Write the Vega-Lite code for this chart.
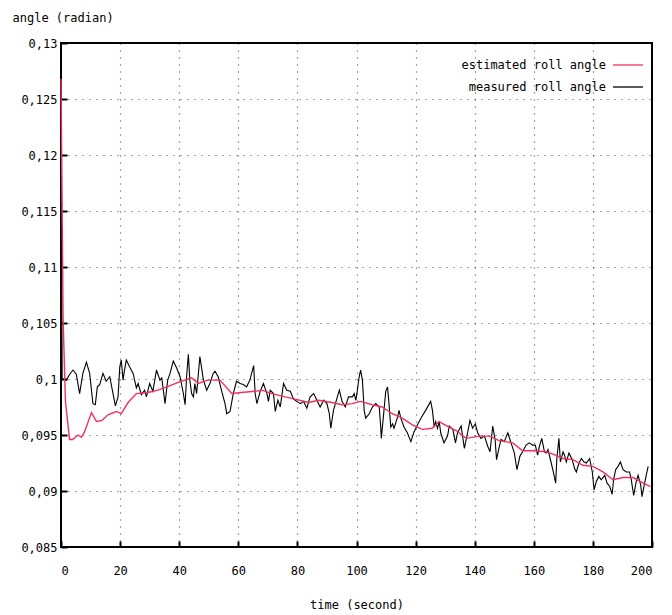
{
  "$schema": "https://vega.github.io/schema/vega-lite/v6.json",
  "width": 591,
  "height": 504,
  "autosize": {"type": "none"},
  "padding": {"left": 61, "top": 43, "right": 20, "bottom": 68},
  "background": "white",
  "config": {
    "font": "DejaVu Sans Mono",
    "view": {"stroke": "#000", "strokeWidth": 2},
    "axis": {
      "labelFont": "DejaVu Sans Mono",
      "labelFontSize": 12,
      "labelColor": "#000",
      "titleFont": "DejaVu Sans Mono",
      "titleFontSize": 12,
      "titleFontWeight": "normal",
      "titleColor": "#000",
      "domain": false,
      "tickColor": "#000",
      "tickWidth": 2,
      "tickSize": -6,
      "grid": true,
      "gridColor": "#000",
      "gridDash": [1, 6],
      "gridWidth": 1.2,
      "gridOpacity": 0.7
    }
  },
  "datasets": {
    "est": [
      {"t": 0, "v": 0.1268}, {"t": 0.7, "v": 0.1055}, {"t": 1.5, "v": 0.098}, {"t": 2.9, "v": 0.0946},
      {"t": 3.9, "v": 0.0946}, {"t": 5.8, "v": 0.095}, {"t": 6.9, "v": 0.0948}, {"t": 8, "v": 0.0953},
      {"t": 10.3, "v": 0.097}, {"t": 12, "v": 0.0962}, {"t": 13.9, "v": 0.0963}, {"t": 15.9, "v": 0.0968},
      {"t": 18.7, "v": 0.0971}, {"t": 20.4, "v": 0.0969}, {"t": 22.7, "v": 0.0979}, {"t": 25.5, "v": 0.0987},
      {"t": 29.4, "v": 0.0988}, {"t": 32.8, "v": 0.099}, {"t": 35.8, "v": 0.0993}, {"t": 39.7, "v": 0.0997},
      {"t": 44.2, "v": 0.1001}, {"t": 46.5, "v": 0.0996}, {"t": 49.6, "v": 0.0999}, {"t": 53.8, "v": 0.0999},
      {"t": 57.8, "v": 0.0987}, {"t": 61, "v": 0.0988}, {"t": 65.7, "v": 0.0989}, {"t": 68, "v": 0.099},
      {"t": 71.4, "v": 0.0987}, {"t": 75.9, "v": 0.0984}, {"t": 79.3, "v": 0.0982}, {"t": 83.8, "v": 0.0979},
      {"t": 87.2, "v": 0.0981}, {"t": 91.7, "v": 0.0979}, {"t": 95.1, "v": 0.0977}, {"t": 98.5, "v": 0.0978},
      {"t": 101.4, "v": 0.098}, {"t": 105.3, "v": 0.0977}, {"t": 108.7, "v": 0.0975}, {"t": 112.1, "v": 0.0969},
      {"t": 115.5, "v": 0.0965}, {"t": 118.9, "v": 0.0959}, {"t": 122.3, "v": 0.0955}, {"t": 125.6, "v": 0.0956},
      {"t": 127.9, "v": 0.0962}, {"t": 131.3, "v": 0.0957}, {"t": 133.7, "v": 0.0954}, {"t": 137.1, "v": 0.0947},
      {"t": 141.6, "v": 0.0949}, {"t": 145, "v": 0.0949}, {"t": 148.3, "v": 0.0945}, {"t": 152.9, "v": 0.0943},
      {"t": 156.2, "v": 0.0936}, {"t": 159.6, "v": 0.0936}, {"t": 164.1, "v": 0.0935}, {"t": 166.5, "v": 0.0933},
      {"t": 169.9, "v": 0.0929}, {"t": 173.3, "v": 0.0928}, {"t": 176.6, "v": 0.0923}, {"t": 180, "v": 0.0922},
      {"t": 183.4, "v": 0.0917}, {"t": 186.8, "v": 0.091}, {"t": 190.2, "v": 0.0912}, {"t": 193.6, "v": 0.0912},
      {"t": 197, "v": 0.0907}, {"t": 199.5, "v": 0.0904}
    ],
    "meas": [
      {"t": 0, "v": 0.1225}, {"t": 0.4, "v": 0.1}, {"t": 1.8, "v": 0.0999}, {"t": 2.9, "v": 0.1004},
      {"t": 4.06, "v": 0.1008}, {"t": 5.2, "v": 0.1004}, {"t": 6.3, "v": 0.0987}, {"t": 7.4, "v": 0.1005},
      {"t": 8.6, "v": 0.1015}, {"t": 9.7, "v": 0.1005}, {"t": 10.8, "v": 0.0978}, {"t": 11.6, "v": 0.0977},
      {"t": 12.3, "v": 0.0993}, {"t": 13.1, "v": 0.0995}, {"t": 14.2, "v": 0.1005}, {"t": 15.3, "v": 0.0998},
      {"t": 16.5, "v": 0.1002}, {"t": 17.6, "v": 0.0987}, {"t": 18.4, "v": 0.0976}, {"t": 19.3, "v": 0.0984},
      {"t": 19.9, "v": 0.1011}, {"t": 20.4, "v": 0.1017}, {"t": 21, "v": 0.0999}, {"t": 21.5, "v": 0.1008},
      {"t": 22.1, "v": 0.1017}, {"t": 23.2, "v": 0.1011}, {"t": 24.4, "v": 0.1005}, {"t": 25.5, "v": 0.0992},
      {"t": 26.1, "v": 0.0996}, {"t": 27.2, "v": 0.0986}, {"t": 28.3, "v": 0.099}, {"t": 28.9, "v": 0.0984},
      {"t": 30, "v": 0.0996}, {"t": 31.1, "v": 0.0989}, {"t": 32.3, "v": 0.1008}, {"t": 33.5, "v": 0.0999},
      {"t": 34.1, "v": 0.1001}, {"t": 35.2, "v": 0.0978}, {"t": 36.1, "v": 0.0999}, {"t": 36.9, "v": 0.1005},
      {"t": 38, "v": 0.1016}, {"t": 39.1, "v": 0.101}, {"t": 40.3, "v": 0.1002}, {"t": 41.4, "v": 0.0987},
      {"t": 42, "v": 0.0977}, {"t": 42.5, "v": 0.1002}, {"t": 43.1, "v": 0.1022}, {"t": 43.6, "v": 0.0999},
      {"t": 44.2, "v": 0.0987}, {"t": 44.8, "v": 0.0984}, {"t": 45.3, "v": 0.0996}, {"t": 45.9, "v": 0.0987},
      {"t": 47, "v": 0.102}, {"t": 48.2, "v": 0.0999}, {"t": 49.3, "v": 0.099}, {"t": 50.4, "v": 0.0996},
      {"t": 51.5, "v": 0.1005}, {"t": 52.1, "v": 0.1007}, {"t": 53.2, "v": 0.1002}, {"t": 54.4, "v": 0.0989},
      {"t": 55.5, "v": 0.0978}, {"t": 56.1, "v": 0.0969}, {"t": 57.2, "v": 0.0971}, {"t": 58.3, "v": 0.0987},
      {"t": 59.4, "v": 0.0998}, {"t": 60.6, "v": 0.0996}, {"t": 61.7, "v": 0.0995}, {"t": 62.8, "v": 0.0993},
      {"t": 63.9, "v": 0.0999}, {"t": 65.2, "v": 0.1012}, {"t": 65.7, "v": 0.0987}, {"t": 66.3, "v": 0.0978},
      {"t": 67.4, "v": 0.0989}, {"t": 68.5, "v": 0.0996}, {"t": 69.7, "v": 0.0987}, {"t": 70.2, "v": 0.098},
      {"t": 70.8, "v": 0.099}, {"t": 71.9, "v": 0.0987}, {"t": 72.5, "v": 0.0971}, {"t": 73.4, "v": 0.0981},
      {"t": 74.2, "v": 0.0975}, {"t": 75.3, "v": 0.0996}, {"t": 76.4, "v": 0.099}, {"t": 77.6, "v": 0.0989},
      {"t": 78.7, "v": 0.0982}, {"t": 79.8, "v": 0.098}, {"t": 81, "v": 0.0978}, {"t": 82.1, "v": 0.098},
      {"t": 83.2, "v": 0.0974}, {"t": 84.3, "v": 0.0984}, {"t": 85.5, "v": 0.0987}, {"t": 86.6, "v": 0.0981},
      {"t": 87.7, "v": 0.0975}, {"t": 88.9, "v": 0.0981}, {"t": 90, "v": 0.0978}, {"t": 90.8, "v": 0.0969},
      {"t": 91.3, "v": 0.0956}, {"t": 92.2, "v": 0.0972}, {"t": 93.4, "v": 0.0983}, {"t": 94.2, "v": 0.099},
      {"t": 95.1, "v": 0.098}, {"t": 96.2, "v": 0.0975}, {"t": 97.3, "v": 0.0984}, {"t": 98.6, "v": 0.0984},
      {"t": 99.2, "v": 0.0987}, {"t": 99.8, "v": 0.0981}, {"t": 100.3, "v": 0.099}, {"t": 100.9, "v": 0.1002},
      {"t": 101.4, "v": 0.1008}, {"t": 102, "v": 0.0999}, {"t": 102.6, "v": 0.0972}, {"t": 103.1, "v": 0.0965},
      {"t": 104.3, "v": 0.0969}, {"t": 105.4, "v": 0.0975}, {"t": 106.5, "v": 0.0978}, {"t": 107.7, "v": 0.0975},
      {"t": 108.2, "v": 0.0957}, {"t": 108.4, "v": 0.0947}, {"t": 109.3, "v": 0.0972}, {"t": 109.9, "v": 0.0989},
      {"t": 110.5, "v": 0.0993}, {"t": 111, "v": 0.0978}, {"t": 111.6, "v": 0.0957}, {"t": 112.2, "v": 0.096},
      {"t": 112.7, "v": 0.0956}, {"t": 113.9, "v": 0.0966}, {"t": 114.4, "v": 0.0972}, {"t": 115, "v": 0.0965},
      {"t": 116.1, "v": 0.0957}, {"t": 117.2, "v": 0.0952}, {"t": 118.4, "v": 0.0944}, {"t": 119.5, "v": 0.0953},
      {"t": 120.6, "v": 0.0959}, {"t": 121.8, "v": 0.0965}, {"t": 123.4, "v": 0.0972}, {"t": 125.1, "v": 0.098},
      {"t": 125.7, "v": 0.0972}, {"t": 126.3, "v": 0.0957}, {"t": 126.8, "v": 0.0962}, {"t": 127.4, "v": 0.0956},
      {"t": 128, "v": 0.0962}, {"t": 128.5, "v": 0.0952}, {"t": 129.6, "v": 0.0943}, {"t": 130.8, "v": 0.0949},
      {"t": 131.4, "v": 0.0958}, {"t": 132.6, "v": 0.0955}, {"t": 133.5, "v": 0.0943}, {"t": 134.2, "v": 0.0952},
      {"t": 135.4, "v": 0.0958}, {"t": 136.5, "v": 0.0938}, {"t": 137.6, "v": 0.0952}, {"t": 138.4, "v": 0.0963},
      {"t": 139.3, "v": 0.0956}, {"t": 140.2, "v": 0.096}, {"t": 141, "v": 0.0952}, {"t": 142.1, "v": 0.0947},
      {"t": 143.3, "v": 0.0949}, {"t": 144.4, "v": 0.094}, {"t": 145.2, "v": 0.0935}, {"t": 146.1, "v": 0.0958},
      {"t": 146.9, "v": 0.0946}, {"t": 147.4, "v": 0.0928}, {"t": 148.1, "v": 0.0937}, {"t": 148.9, "v": 0.0946},
      {"t": 150, "v": 0.0944}, {"t": 151.2, "v": 0.0952}, {"t": 152.3, "v": 0.0943}, {"t": 153.4, "v": 0.0934},
      {"t": 154.3, "v": 0.0919}, {"t": 155.3, "v": 0.0931}, {"t": 156.2, "v": 0.0935}, {"t": 157.4, "v": 0.0941},
      {"t": 158.5, "v": 0.0943}, {"t": 159.6, "v": 0.0941}, {"t": 160.5, "v": 0.0941}, {"t": 161.3, "v": 0.0932},
      {"t": 161.9, "v": 0.094}, {"t": 162.7, "v": 0.0947}, {"t": 163.6, "v": 0.0935}, {"t": 164.2, "v": 0.0934},
      {"t": 164.8, "v": 0.0937}, {"t": 165.9, "v": 0.0925}, {"t": 166.7, "v": 0.0916}, {"t": 167.4, "v": 0.0907},
      {"t": 167.8, "v": 0.0929}, {"t": 168.5, "v": 0.0947}, {"t": 169, "v": 0.0926}, {"t": 169.9, "v": 0.0935},
      {"t": 170.4, "v": 0.0932}, {"t": 171, "v": 0.0926}, {"t": 171.9, "v": 0.0934}, {"t": 173, "v": 0.0928},
      {"t": 173.8, "v": 0.092}, {"t": 174.4, "v": 0.0917}, {"t": 175.3, "v": 0.0925}, {"t": 176.1, "v": 0.0929},
      {"t": 176.9, "v": 0.0926}, {"t": 177.8, "v": 0.0925}, {"t": 178.9, "v": 0.0929}, {"t": 179.8, "v": 0.0917},
      {"t": 180.4, "v": 0.0901}, {"t": 181.1, "v": 0.0908}, {"t": 182, "v": 0.0913}, {"t": 182.8, "v": 0.091},
      {"t": 184, "v": 0.0914}, {"t": 184.8, "v": 0.0907}, {"t": 185.7, "v": 0.0904}, {"t": 186.5, "v": 0.0897},
      {"t": 187, "v": 0.091}, {"t": 187.7, "v": 0.0919}, {"t": 188.5, "v": 0.0922}, {"t": 189.3, "v": 0.0926},
      {"t": 190.2, "v": 0.0919}, {"t": 191.3, "v": 0.0917}, {"t": 192.4, "v": 0.0917}, {"t": 193, "v": 0.091},
      {"t": 193.8, "v": 0.0896}, {"t": 194.7, "v": 0.0909}, {"t": 195.3, "v": 0.0914}, {"t": 196.2, "v": 0.0905},
      {"t": 196.6, "v": 0.0895}, {"t": 197.5, "v": 0.0907}, {"t": 198.3, "v": 0.0917}, {"t": 198.7, "v": 0.0922}
    ]
  },
  "layer": [
    {
      "data": {"name": "meas"},
      "transform": [{"calculate": "'measured roll angle'", "as": "series"}],
      "mark": {"type": "line", "strokeWidth": 1.1},
      "encoding": {
        "x": {"field": "t", "type": "quantitative"},
        "y": {"field": "v", "type": "quantitative"},
        "color": {"field": "series", "type": "nominal"}
      }
    },
    {
      "data": {"name": "est"},
      "transform": [{"calculate": "'estimated roll angle'", "as": "series"}],
      "mark": {"type": "line", "strokeWidth": 1.4},
      "encoding": {
        "x": {"field": "t", "type": "quantitative"},
        "y": {"field": "v", "type": "quantitative"},
        "color": {"field": "series", "type": "nominal"}
      }
    }
  ],
  "resolve": {"scale": {"color": "shared"}},
  "encoding": {
    "x": {
      "field": "t", "type": "quantitative",
      "scale": {"domain": [0, 200], "nice": false, "zero": false},
      "axis": {"values": [0, 20, 40, 60, 80, 100, 120, 140, 160, 180, 200], "title": "time (second)", "labelPadding": 24, "titleY": 57, "titleBaseline": "middle"}
    },
    "y": {
      "field": "v", "type": "quantitative",
      "scale": {"domain": [0.085, 0.13], "nice": false, "zero": false},
      "axis": {
        "values": [0.085, 0.09, 0.095, 0.1, 0.105, 0.11, 0.115, 0.12, 0.125, 0.13],
        "labelExpr": "replace(format(datum.value, '.3~f'), '.', ',')",
        "labelPadding": 10,
        "title": "angle (radian)",
        "titleAngle": 0,
        "titleX": -49,
        "titleY": -26,
        "titleAlign": "left",
        "titleBaseline": "middle"
      }
    },
    "color": {
      "field": "series", "type": "nominal",
      "scale": {"domain": ["estimated roll angle", "measured roll angle"], "range": ["#f2305c", "#000000"]},
      "legend": {
        "orient": "top-right",
        "title": null,
        "symbolType": "stroke",
        "symbolSize": 900,
        "symbolStrokeWidth": 1.3,
        "labelFont": "DejaVu Sans Mono",
        "labelFontSize": 12,
        "labelColor": "#000",
        "labelAlign": "right",
        "labelOffset": -38,
        "rowPadding": -7,
        "offset": 6
      }
    }
  }
}
